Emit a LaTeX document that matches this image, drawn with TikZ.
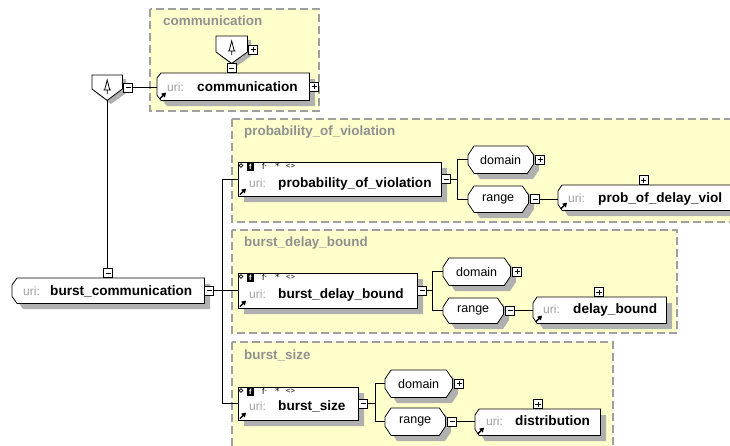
\documentclass[tikz,border=0pt]{standalone}
\usepackage{fontspec}
\setmainfont{Liberation Sans}
\newfontfamily\symfont{DejaVu Sans}
\usetikzlibrary{arrows.meta,calc}
\definecolor{grpfill}{HTML}{FFFFCC}
\definecolor{grpline}{HTML}{A0A0A0}
\definecolor{titlegray}{HTML}{909090}
\definecolor{urigray}{HTML}{A0A0A0}
\definecolor{shadowgray}{HTML}{B0B0B0}

\tikzset{
  grp/.style={draw=grpline, fill=grpfill, line width=1.5pt, dash pattern=on 8pt off 4pt},
  grptitle/.style={text=titlegray, font=\bfseries\fontsize{13.4}{14}\selectfont, anchor=base west, inner sep=0},
  boxframe/.style={inner sep=0, anchor=north west},
  facettext/.style={inner sep=0, font=\fontsize{12.5}{13}\selectfont},
  uri/.style={text=urigray, font=\fontsize{12}{13}\selectfont, anchor=base west, inner sep=0},
  ename/.style={font=\bfseries\fontsize{13.6}{14}\selectfont, anchor=base west, inner sep=0},
  pmbox/.style={draw, fill=white, line width=.8pt, minimum size=9pt, inner sep=0},
  minusbox/.style={pmbox, path picture={\draw[line width=.9pt]
    ([xshift=-2.6pt]path picture bounding box.center) -- ([xshift=2.6pt]path picture bounding box.center);}},
  plusbox/.style={pmbox, path picture={\draw[line width=.9pt]
    ([xshift=-2.6pt]path picture bounding box.center) -- ([xshift=2.6pt]path picture bounding box.center)
    ([yshift=-2.6pt]path picture bounding box.center) -- ([yshift=2.6pt]path picture bounding box.center);}},
  wire/.style={line width=.8pt},
  refarrow/.style={line width=1.5pt, -{Triangle[length=4.2pt,width=5pt]}},
  facetsym/.style={inner sep=0, anchor=north west},
}

% outline of a box with cut corners: node, left dx, left dy, right dx, right dy
\newcommand\cutpath[5]{($(#1.north west)+(#2,0)$) -- ($(#1.north east)+(-#4,0)$) -- ($(#1.north east)+(0,#5)$)
  -- ($(#1.south east)+(0,-#5)$) -- ($(#1.south east)+(-#4,0)$) -- ($(#1.south west)+(#2,0)$)
  -- ($(#1.south west)+(0,-#3)$) -- ($(#1.north west)+(0,#3)$) -- cycle}
\newcommand\boxoutline[5]{%
  \draw[fill=white, line width=.8pt] \cutpath{#1}{#2}{#3}{#4}{#5};
}
% drop shadow of a cut-corner box: x0, y0, x1, y1, left dx, left dy, right dx, right dy
\newcommand\shadowpoly[8]{%
  \fill[shadowgray] (#1+#5+6,#2+6) -- (#3-#7+6,#2+6) -- (#3+6,#2+#8+6) -- (#3+6,#4-#8+6)
    -- (#3-#7+6,#4+6) -- (#1+#5+6,#4+6) -- (#1+6,#4-#6+6) -- (#1+6,#2+#6+6) -- cycle;
}

% domain / range facet: name, x, y, width, height, label
\newcommand\facetnode[6]{%
  \node[boxframe, minimum width=#4pt, minimum height=#5pt] (#1) at (#2,#3) {};
  \boxoutline{#1}{6}{9}{6}{9}
  \node[facettext] (#1-t) at (#1.center) {#6};
}

% shield outline of a compositor: node, side height
\newcommand\shieldpath[2]{(#1.north west) -- (#1.north east) -- ($(#1.north east)+(0,#2)$)
  -- (#1.south) -- ($(#1.north west)+(0,#2)$) -- cycle}

% sequence compositor: name, x, y, width, height, side height
\newcommand\seqicon[6]{%
  \fill[shadowgray] (#2+4,#3+4) -- (#2+#4+4,#3+4) -- (#2+#4+4,#3+#6+4) -- (#2+#4/2+4,#3+#5+4) -- (#2+4,#3+#6+4) -- cycle;
  \node[minimum width=#4pt, minimum height=#5pt, inner sep=0, anchor=north west] (#1) at (#2,#3) {};
  \draw[fill=white, line width=.8pt] \shieldpath{#1}{#6};
  \draw[line width=.8pt] ($(#1.north)+(0,5)$) -- ($(#1.north)+(-2.6,15)$) -- ($(#1.north)+(2.6,15)$) -- cycle
    ($(#1.north)+(-3.8,15)$) -- ($(#1.north)+(3.8,15)$)
    ($(#1.north)+(0,15)$) -- ($(#1.north)+(0,19)$);
}

% facet markers in the top row of a property box
\newcommand\facetrow[1]{%
  \draw[line width=.7pt] ($(#1.north west)+(3,3.5)$) circle (1.8pt);
  \node[fill=black, text=white, minimum width=6.5pt, minimum height=7.5pt, facetsym,
    font=\bfseries\fontsize{7.5}{7.5}\selectfont] (#1-f) at ($(#1.north west)+(9,1)$) {f};
  \node[facetsym, font=\fontsize{8.5}{8.5}\selectfont] (#1-fx) at ($(#1.north west)+(24,1)$) {f\raisebox{2pt}{\fontsize{6}{6}\selectfont -}};
  \node[facetsym, font=\symfont\fontsize{9}{9}\selectfont] (#1-all) at ($(#1.north west)+(37,1)$) {*};
  \node[facetsym, font=\fontsize{7.5}{7.5}\selectfont] (#1-any) at ($(#1.north west)+(48,1.5)$) {<>};
}

% reference arrow in the lower left corner of a box
\newcommand\refmark[2]{%
  \draw[refarrow] ($(#1.south west)+(#2,-1.8)$) -- ++(6,-6);
}

\begin{document}
\begin{tikzpicture}[x=1pt, y=-1pt]
\useasboundingbox (0,0) rectangle (730,445);
\fill[white] (0,0) rectangle (730,445);

% ---- group frames ----
\draw[grp] (150,9) rectangle (319,111);
\node[grptitle] (t-comm) at (163,25) {communication};
\draw[grp] (232,119) rectangle (745,222);
\node[grptitle] (t-pov) at (244,135) {probability\_of\_violation};
\draw[grp] (232,230) rectangle (677,333);
\node[grptitle] (t-dly) at (244,246) {burst\_delay\_bound};
\draw[grp] (232,342) rectangle (613,455);
\node[grptitle] (t-size) at (244,359) {burst\_size};

% ---- drop shadows of the boxes ----
\shadowpoly{157}{73}{309}{100}{4}{5}{0}{0}
\shadowpoly{12}{278}{204}{303}{5}{7}{0}{0}
\shadowpoly{238}{162}{441}{196}{0}{0}{0}{0}
\shadowpoly{238}{273}{417}{308}{0}{0}{0}{0}
\shadowpoly{238}{387}{358}{420}{0}{0}{0}{0}
\shadowpoly{468}{146}{533}{173}{6}{9}{6}{9}
\shadowpoly{468}{186}{528}{212}{6}{9}{6}{9}
\shadowpoly{558}{185}{748}{210}{4}{6}{0}{0}
\shadowpoly{443}{258}{510}{285}{6}{9}{6}{9}
\shadowpoly{443}{298}{503}{323}{6}{9}{6}{9}
\shadowpoly{533}{297}{666}{323}{4}{6}{0}{0}
\shadowpoly{385}{370}{452}{397}{6}{9}{6}{9}
\shadowpoly{385}{408}{445}{435}{6}{9}{6}{9}
\shadowpoly{475}{409}{600}{435}{4}{6}{0}{0}

% ---- sequence compositors ----
\seqicon{seqL}{92}{75}{30}{25}{14}
\node[minusbox, anchor=west] (seqLm) at ([xshift=1pt]seqL.east) {};
\seqicon{seqT}{216}{36}{31}{27}{16}
\node[plusbox, anchor=west] (seqTp) at ([xshift=1pt]seqT.east) {};
\node[minusbox, anchor=north] (seqTm) at (seqT.south) {};

% ---- communication ----
\node[boxframe, minimum width=152pt, minimum height=27pt] (comm) at (157,73) {};
\boxoutline{comm}{4}{5}{0}{0}
\node[plusbox, anchor=west] (commP) at (comm.east) {};
\node[uri] (comm-uri) at (167,91) {uri:};
\node[ename] (comm-name) at (197,91) {communication};
\refmark{comm}{3}

% ---- burst_communication ----
\node[boxframe, minimum width=192pt, minimum height=25pt] (bc) at (12,278) {};
\boxoutline{bc}{5}{7}{0}{0}
\node[minusbox, anchor=south] (bcT) at (bc.north) {};
\node[minusbox, anchor=west] (bcR) at (bc.east) {};
\node[uri] (bc-uri) at (23,295) {uri:};
\node[ename] (bc-name) at (50,295) {burst\_communication};

% ---- properties ----
\node[boxframe, minimum width=203pt, minimum height=34pt] (P) at (238,162) {};
\boxoutline{P}{0}{0}{0}{0}
\node[minusbox, anchor=west] (Pm) at (P.east) {};
\node[uri] (P-uri) at (249,187) {uri:};
\node[ename] (P-name) at (278,187) {probability\_of\_violation};
\facetrow{P}
\refmark{P}{2}

\node[boxframe, minimum width=179pt, minimum height=35pt] (D) at (238,273) {};
\boxoutline{D}{0}{0}{0}{0}
\node[minusbox, anchor=west] (Dm) at (D.east) {};
\node[uri] (D-uri) at (249,298) {uri:};
\node[ename] (D-name) at (278,298) {burst\_delay\_bound};
\facetrow{D}
\refmark{D}{2}

\node[boxframe, minimum width=120pt, minimum height=33pt] (S) at (238,387) {};
\boxoutline{S}{0}{0}{0}{0}
\node[minusbox, anchor=west] (Sm) at (S.east) {};
\node[uri] (S-uri) at (249,410) {uri:};
\node[ename] (S-name) at (278,410) {burst\_size};
\facetrow{S}
\refmark{S}{2}

% ---- domain / range of probability_of_violation ----
\facetnode{Pdom}{468}{146}{65}{27}{domain}
\node[plusbox, anchor=west] (Pdp) at ([xshift=2pt]Pdom.east) {};
\facetnode{Prng}{468}{186}{60}{26}{range}
\node[minusbox, anchor=west] (Prm) at ([xshift=2pt]Prng.east) {};
\node[boxframe, minimum width=190pt, minimum height=25pt] (Ptgt) at (558,185) {};
\boxoutline{Ptgt}{4}{6}{0}{0}
\node[plusbox, anchor=south] (Ptp) at (643.5,185) {};
\node[uri] (Ptgt-uri) at (568,202) {uri:};
\node[ename] (Ptgt-name) at (598,202) {prob\_of\_delay\_viol};
\refmark{Ptgt}{3}

% ---- domain / range of burst_delay_bound ----
\facetnode{Ddom}{443}{258}{67}{27}{domain}
\node[plusbox, anchor=west] (Ddp) at ([xshift=2pt]Ddom.east) {};
\facetnode{Drng}{443}{298}{60}{25}{range}
\node[minusbox, anchor=west] (Drm) at ([xshift=2pt]Drng.east) {};
\node[boxframe, minimum width=133pt, minimum height=26pt] (Dtgt) at (533,297) {};
\boxoutline{Dtgt}{4}{6}{0}{0}
\node[plusbox, anchor=south] (Dtp) at (599,297) {};
\node[uri] (Dtgt-uri) at (543,313) {uri:};
\node[ename] (Dtgt-name) at (573,313) {delay\_bound};
\refmark{Dtgt}{3}

% ---- domain / range of burst_size ----
\facetnode{Sdom}{385}{370}{67}{27}{domain}
\node[plusbox, anchor=west] (Sdp) at ([xshift=2pt]Sdom.east) {};
\facetnode{Srng}{385}{408}{60}{27}{range}
\node[minusbox, anchor=west] (Srm) at ([xshift=2pt]Srng.east) {};
\node[boxframe, minimum width=125pt, minimum height=26pt] (Stgt) at (475,409) {};
\boxoutline{Stgt}{4}{6}{0}{0}
\node[plusbox, anchor=south] (Stp) at (538,409) {};
\node[uri] (Stgt-uri) at (486,425) {uri:};
\node[ename] (Stgt-name) at (515,425) {distribution};
\refmark{Stgt}{3}

% ---- connectors ----
\coordinate (spine) at (222,0);
\coordinate (Pbr) at (457,0);
\coordinate (Dbr) at (432,0);
\coordinate (Sbr) at (375,0);

\draw[wire] (seqLm.east) -- (seqLm.east -| comm.west);
\draw[wire] (seqL.south) -- (seqL.south |- bcT.north);
\draw[wire] (bcR.east) -- (bcR.east -| D.west);
\draw[wire] (P.west) -- (P.west -| spine) -- (S.west -| spine) -- (S.west);

\draw[wire] (Pm.east) -- (Pm.east -| Pbr);
\draw[wire] (Pdom.west) -- (Pdom.west -| Pbr) -- (Prng.west -| Pbr) -- (Prng.west);
\draw[wire] (Prm.east) -- (Prm.east -| Ptgt.west);

\draw[wire] (Dm.east) -- (Dm.east -| Dbr);
\draw[wire] (Ddom.west) -- (Ddom.west -| Dbr) -- (Drng.west -| Dbr) -- (Drng.west);
\draw[wire] (Drm.east) -- (Drm.east -| Dtgt.west);

\draw[wire] (Sm.east) -- (Sm.east -| Sbr);
\draw[wire] (Sdom.west) -- (Sdom.west -| Sbr) -- (Srng.west -| Sbr) -- (Srng.west);
\draw[wire] (Srm.east) -- (Srm.east -| Stgt.west);
\end{tikzpicture}
\end{document}
